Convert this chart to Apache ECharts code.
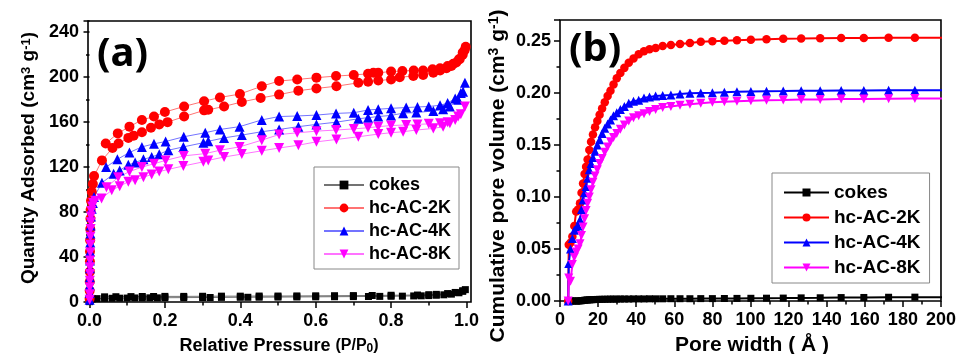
<!DOCTYPE html>
<html><head><meta charset="utf-8">
<script src="https://cdn.jsdelivr.net/npm/echarts@6/dist/echarts.min.js"></script>
<style>html,body{margin:0;padding:0;background:#fff}#c{width:959px;height:354px}</style>
</head><body><div id="c"></div>
<script>
// ---------- Panel (a): N2 isotherms (P/P0, cm3 g-1) ----------
const cokesAdsP = [0.0002,0.0006,0.001,0.002,0.004,0.008,0.02,0.04,0.06,0.08,0.10,0.12,0.14,0.16,0.18,0.20,0.25,0.30,0.32,0.35,0.40,0.42,0.45,0.50,0.55,0.60,0.65,0.70,0.74,0.77,0.80,0.83,0.86,0.88,0.90,0.92,0.94,0.96,0.98,0.99,0.997];
const cokesAdsV = [0.3,1,1.5,2,2.5,2.8,3.0,3.2,3.3,3.4,3.5,3.6,3.6,3.7,3.7,3.8,3.9,4.0,4.0,4.1,4.2,4.2,4.3,4.4,4.5,4.6,4.7,4.8,4.9,5.0,5.1,5.2,5.4,5.5,5.7,6.0,6.4,7.0,8.2,9.5,11];
const cokesDesP = [0.99,0.97,0.95,0.92,0.90,0.87,0.80,0.75,0.70,0.65,0.60,0.55,0.50,0.45,0.40,0.35,0.30,0.25,0.20,0.17,0.14,0.11,0.07,0.04];
const cokesDesV = [10,8.5,7.5,6.8,6.5,6.2,6.0,5.8,5.7,5.6,5.5,5.4,5.3,5.3,5.2,5.2,5.1,5.0,5.0,4.9,4.9,4.8,4.7,4.6];

const k2AdsP = [0.0003,0.0005,0.0007,0.0009,0.0011,0.0013,0.0016,0.002,0.0025,0.003,0.004,0.006,0.009,0.012,0.033,0.061,0.077,0.103,0.117,0.139,0.163,0.185,0.207,0.251,0.304,0.315,0.357,0.404,0.454,0.503,0.554,0.602,0.655,0.713,0.739,0.766,0.800,0.823,0.859,0.885,0.912,0.930,0.947,0.960,0.973,0.982,0.990,0.995,0.998];
const k2AdsV = [3,10,18,27,36,45,55,65,74,82,90,98,105,112,126,137,141,146,148,151,155,158,160,165,170.5,171,174,178,181.5,184.5,188,190,192,195,196,197,198,200,201,202,204,206,208,210,213,216,220,224,227];
const k2DesP = [0.990,0.980,0.965,0.950,0.930,0.910,0.885,0.860,0.830,0.800,0.766,0.753,0.739,0.701,0.654,0.602,0.551,0.503,0.457,0.399,0.346,0.304,0.251,0.200,0.171,0.139,0.106,0.075,0.043];
const k2DesV = [222,216,212,210,208,207,206,206,205.5,205,204,204,203,202,201,199.6,198,196.6,192,185,182,178.6,174,169,165,162,156,150,141];

const k4AdsP = [0.0003,0.0005,0.0007,0.0009,0.0011,0.0013,0.0016,0.002,0.0025,0.003,0.004,0.006,0.009,0.012,0.033,0.064,0.080,0.103,0.121,0.143,0.165,0.185,0.209,0.249,0.302,0.315,0.357,0.404,0.457,0.503,0.554,0.602,0.655,0.713,0.739,0.766,0.800,0.832,0.867,0.912,0.938,0.956,0.978,0.991,0.996];
const k4AdsV = [2,8,15,22,30,37,45,53,61,68,76,83,88,93.5,106,114,117,122,124,127,129,131.5,135,138,141.7,143,146,148.5,151.5,153.5,156,158,160,163,164,165,166,168,168.5,170,171.5,174,180,187,195];
const k4DesP = [0.985,0.970,0.950,0.930,0.900,0.870,0.840,0.800,0.766,0.739,0.701,0.654,0.602,0.551,0.503,0.457,0.398,0.346,0.307,0.250,0.202,0.171,0.139,0.106,0.074,0.044];
const k4DesV = [186,181,177,175,174,173.5,173,172.3,171.5,170.8,168.4,167.8,166.3,165.5,165,162,156,153.5,150.6,147,142.8,140.7,138,133,127,120];

const k8AdsP = [0.0003,0.0005,0.0007,0.0009,0.0011,0.0013,0.0015,0.0018,0.0021,0.0025,0.003,0.0035,0.004,0.005,0.007,0.010,0.015,0.032,0.059,0.080,0.103,0.121,0.143,0.165,0.185,0.209,0.249,0.302,0.315,0.357,0.404,0.457,0.503,0.554,0.602,0.655,0.713,0.766,0.800,0.832,0.867,0.912,0.938,0.956,0.978,0.996];
const k8AdsV = [2,7,13,19,25,31,37,44,51,58,65,71,76,81,85,88,90,92,99.5,103,107,108.4,111,113.5,116,118,121,124.7,126,129,131.6,134.5,137,139.5,142.5,144.6,147,149.4,150.6,151.5,153,154.4,156,159,165,174];
const k8DesP = [0.985,0.970,0.950,0.930,0.900,0.870,0.840,0.800,0.766,0.739,0.701,0.654,0.602,0.551,0.503,0.457,0.398,0.346,0.307,0.250,0.202,0.171,0.139,0.106,0.076,0.045];
const k8DesV = [167,162,160,159,158.5,158,157.5,157,156,155,154,153,152,150.5,149,144,138,135,132,130,126,123,120,116,111,102];

// ---------- Panel (b): cumulative pore volume (Å, cm3 g-1) ----------
const poreW = [4.3,4.6,5.5,6.5,7.5,8.5,9.5,10.5,11.3,12.1,12.9,13.7,14.5,15.4,16.3,17.3,18.4,19.6,20.8,22.1,23.5,25.0,26.5,28.1,29.8,31.7,33.8,36.1,38.6,41.3,44.1,47.0,50.2,53.9,58.2,63.0,68.2,73.9,80.0,86.3,92.9,100.2,108.4,117.2,126.6,136.6,147.6,159.5,172.5,186.3,201];
const cokesCum = [0,0,0,0,0,0,0,0.0001,0.0003,0.0005,0.0007,0.0009,0.001,0.0011,0.0012,0.0013,0.0014,0.0015,0.0016,0.0016,0.0017,0.0017,0.0018,0.0018,0.0018,0.0019,0.0019,0.0019,0.002,0.002,0.002,0.0021,0.0021,0.0021,0.0022,0.0022,0.0022,0.0023,0.0023,0.0024,0.0025,0.0026,0.0027,0.0028,0.003,0.0031,0.0033,0.0034,0.0036,0.0037,0.0037];
const k2Cum = [0,0.054,0.056,0.062,0.072,0.086,0.088,0.094,0.104,0.113,0.122,0.129,0.136,0.145,0.153,0.160,0.167,0.173,0.179,0.185,0.191,0.197,0.202,0.208,0.214,0.219,0.224,0.229,0.233,0.237,0.240,0.242,0.243,0.245,0.246,0.247,0.248,0.249,0.2495,0.250,0.2505,0.251,0.2515,0.252,0.2522,0.2525,0.2527,0.2528,0.2529,0.253,0.253];
const k4Cum = [0,0.036,0.05,0.06,0.068,0.07,0.072,0.078,0.088,0.097,0.104,0.11,0.118,0.126,0.132,0.138,0.144,0.15,0.155,0.161,0.166,0.170,0.174,0.178,0.181,0.184,0.187,0.19,0.192,0.193,0.195,0.196,0.197,0.1975,0.198,0.199,0.1995,0.1998,0.2,0.2005,0.201,0.2013,0.2015,0.2017,0.202,0.2021,0.2022,0.2023,0.2024,0.2025,0.2025];
const k8Cum = [0,0.022,0.019,0.035,0.042,0.047,0.05,0.055,0.063,0.071,0.079,0.087,0.094,0.1,0.107,0.114,0.12,0.126,0.132,0.137,0.143,0.148,0.153,0.157,0.161,0.165,0.169,0.173,0.176,0.178,0.18,0.182,0.184,0.186,0.187,0.188,0.189,0.19,0.191,0.1915,0.192,0.1925,0.193,0.1932,0.1935,0.1937,0.194,0.1942,0.1944,0.1945,0.1945];

const names = ['cokes','hc-AC-2K','hc-AC-4K','hc-AC-8K'];
const yTicksA = [0,40,80,120,160,200,240];

// ---------- build ----------
const FONT = '"Liberation Sans", Arial, sans-serif';
const COL = ['#000000','#ff0000','#0000ff','#ff00ff'];
const SYM = ['rect','circle','triangle','path://M0,0 L10,0 L5,9 Z'];
const ZW = '\u200b';
function pts(xs, ys){ return xs.map((x,i)=>[x, ys[i]]); }

const chart = echarts.init(document.getElementById('c'));
const lbl = {color:'#000', fontWeight:'bold', fontSize:18, fontFamily:FONT};
const tickStyle = {color:'#000', width:1.5};

const aData = [
  pts(cokesAdsP.concat(cokesDesP), cokesAdsV.concat(cokesDesV)),
  pts(k2AdsP.concat(k2DesP), k2AdsV.concat(k2DesV)),
  pts(k4AdsP.concat(k4DesP), k4AdsV.concat(k4DesV)),
  pts(k8AdsP.concat(k8DesP), k8AdsV.concat(k8DesV))
];
const bData = [cokesCum,k2Cum,k4Cum,k8Cum].map(v=>pts(poreW, v));
const aSize = [7,10,10,10];
const bSize = [7,8.5,9,9];

const series = [];
aData.forEach((d,i)=>series.push({
  type:'line', name:names[i], xAxisIndex:0, yAxisIndex:0, data:d,
  symbol:SYM[i], symbolSize:aSize[i], showAllSymbol:true,
  lineStyle:{width:1, color:COL[i], opacity:0.55},
  itemStyle:{color:COL[i]}, animation:false
}));
bData.forEach((d,i)=>series.push({
  type:'line', name:names[i]+ZW, xAxisIndex:2, yAxisIndex:2, data:d,
  symbol:SYM[i], symbolSize:bSize[i], showAllSymbol:true,
  lineStyle:{width:2, color:COL[i]},
  itemStyle:{color:COL[i]}, animation:false
}));

const hidden = {show:false};
chart.setOption({
  animation:false,
  grid:[
    {left:88, top:21, width:383, height:281, show:true, borderColor:'#000', borderWidth:1.6, backgroundColor:'transparent'},
    {left:89.5, top:21, width:377, height:281, show:false},
    {left:560, top:20, width:383, height:281, show:true, borderColor:'#000', borderWidth:1.6, backgroundColor:'transparent'}
  ],
  xAxis:[
    {gridIndex:0, type:'value', min:-0.004, max:1.012, axisLine:hidden, axisTick:hidden, axisLabel:hidden, splitLine:hidden},
    {gridIndex:1, type:'value', min:0, max:1, interval:0.2, axisLine:hidden,
      axisTick:{show:true, inside:false, length:6, lineStyle:tickStyle},
      minorTick:{show:true, splitNumber:2, length:3.5, lineStyle:tickStyle},
      axisLabel:Object.assign({margin:10, formatter:v=>v.toFixed(1)}, lbl), splitLine:hidden},
    {gridIndex:2, type:'value', min:0, max:200, interval:20, axisLine:hidden,
      axisTick:{show:true, inside:false, length:6, lineStyle:tickStyle},
      minorTick:{show:true, splitNumber:2, length:3.5, lineStyle:tickStyle},
      axisLabel:Object.assign({margin:10}, lbl), splitLine:hidden}
  ],
  yAxis:[
    {gridIndex:0, type:'value', min:0, max:250, interval:40, axisLine:hidden,
      axisTick:{show:true, inside:false, length:6, lineStyle:tickStyle},
      minorTick:{show:true, splitNumber:2, length:3.5, lineStyle:tickStyle},
      axisLabel:Object.assign({margin:9, showMaxLabel:false, formatter:v=>yTicksA.includes(v)?String(v):''}, lbl), splitLine:hidden},
    {gridIndex:1, type:'value', show:false, min:0, max:250},
    {gridIndex:2, type:'value', min:0, max:0.27, interval:0.05, axisLine:hidden,
      axisTick:{show:true, inside:false, length:6, lineStyle:tickStyle},
      minorTick:{show:true, splitNumber:2, length:3.5, lineStyle:tickStyle},
      axisLabel:Object.assign({margin:9, showMaxLabel:false, formatter:v=>Math.abs(v*20-Math.round(v*20))<1e-6?v.toFixed(2):''}, lbl), splitLine:hidden}
  ],
  legend:[
    {left:314, top:167, orient:'vertical', data:names, itemWidth:40, itemHeight:11, itemGap:5, itemTextGap:8,
      padding:[9,8,6,9], borderColor:'#888', borderWidth:1, backgroundColor:'#fff',
      textStyle:{fontSize:18, fontWeight:'bold', fontFamily:FONT, color:'#000'}},
    {left:772, top:173, orient:'vertical', data:names.map(n=>n+ZW), itemWidth:45, itemHeight:10, itemGap:6, itemTextGap:7,
      padding:[10,9,6,11], borderColor:'#888', borderWidth:1, backgroundColor:'#fff',
      formatter:n=>n.replace(ZW,''),
      textStyle:{fontSize:19, fontWeight:'bold', fontFamily:FONT, color:'#000'}}
  ],
  graphic:[
    {type:'text', left:97, top:35, style:{text:'(a)', font:'bold 40px "Noto Sans", sans-serif', fill:'#000'}},
    {type:'text', left:569, top:30, style:{text:'(b)', font:'bold 40px "Noto Sans", sans-serif', fill:'#000'}},
    {type:'text', x:29, y:158, rotation:Math.PI/2,
      style:{text:'{m|Quantity Adsorbed (cm}{s|3}{m| g}{s|-1}{m|)}', align:'center', verticalAlign:'middle', fill:'#000',
        rich:{m:{fontSize:19, fontWeight:'bold', fontFamily:FONT, fill:'#000', verticalAlign:'bottom'}, s:{fontSize:13, fontWeight:'bold', fontFamily:FONT, fill:'#000', verticalAlign:'top'}}}},
    {type:'text', x:498, y:176, rotation:Math.PI/2,
      style:{text:'{m|Cumulative pore volume (cm}{s|3}{m| g}{s|-1}{m|)}', align:'center', verticalAlign:'middle', fill:'#000',
        rich:{m:{fontSize:21, fontWeight:'bold', fontFamily:FONT, fill:'#000', verticalAlign:'bottom'}, s:{fontSize:14, fontWeight:'bold', fontFamily:FONT, fill:'#000', verticalAlign:'top'}}}},
    {type:'text', x:279, y:346,
      style:{text:'{m|Relative Pressure }{p|(P/P}{b|0}{p|)}', align:'center', verticalAlign:'middle', fill:'#000',
        rich:{m:{fontSize:18, fontWeight:'bold', fontFamily:FONT, fill:'#000', verticalAlign:'middle'}, p:{fontSize:16, fontWeight:'bold', fontFamily:FONT, fill:'#000', verticalAlign:'middle'}, b:{fontSize:12, fontWeight:'bold', fontFamily:FONT, fill:'#000', verticalAlign:'bottom'}}}},
    {type:'text', x:752, y:345,
      style:{text:'Pore width ( Å )', align:'center', verticalAlign:'middle', font:'bold 21px "Liberation Sans", Arial, sans-serif', fill:'#000'}}
  ],
  series:series
});
</script></body></html>
